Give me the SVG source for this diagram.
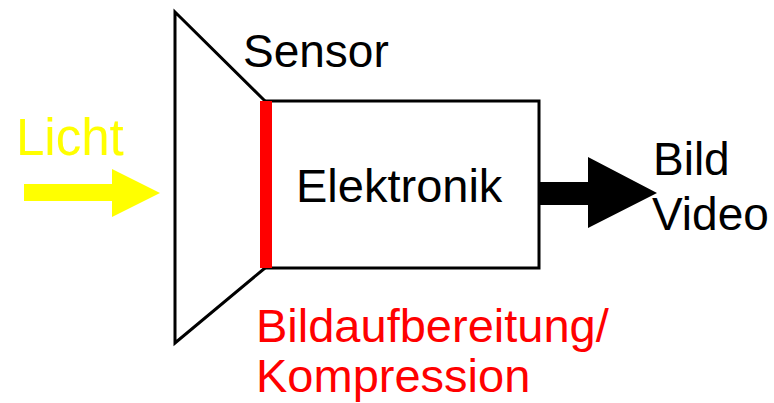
<svg xmlns="http://www.w3.org/2000/svg" width="774" height="403" viewBox="0 0 774 403">
<style>
text{font-family:"Liberation Sans",Arial,sans-serif;font-size:46px}
.ln{fill:none;stroke:#000;stroke-width:3}
</style>
<rect width="774" height="403" fill="#fff"/>
<g id="camera">
<polyline class="ln" points="265,101 175,12 175,343 265,268"/>
</g>
<g id="elektronik">
<rect class="ln" x="265" y="101" width="274" height="167"/>
<text x="296" y="202" style="font-size:47px">Elektronik</text>
</g>
<g id="sensor">
<rect x="260" y="101" width="12" height="167" fill="#f00"/>
<text x="243" y="67">Sensor</text>
</g>
<g id="licht">
<text x="16" y="155" fill="#ff0" style="font-size:51px">Licht</text>
</g>
<g id="output">
<text x="653" y="175">Bild</text>
<text x="652" y="230">Video</text>
</g>
<g id="bildaufbereitung">
<text x="256" y="342" fill="#f00" style="font-size:47px">Bildaufbereitung/</text>
<text x="256" y="392" fill="#f00" style="font-size:47px">Kompression</text>
</g>
<g id="connectors">
<polygon fill="#ff0" points="24,184 112,184 112,169 160,193 112,217 112,201 24,201"/>
<polygon fill="#000" points="540,182 588,182 588,157 657,193 588,228 588,205 540,205"/>
</g>
</svg>
